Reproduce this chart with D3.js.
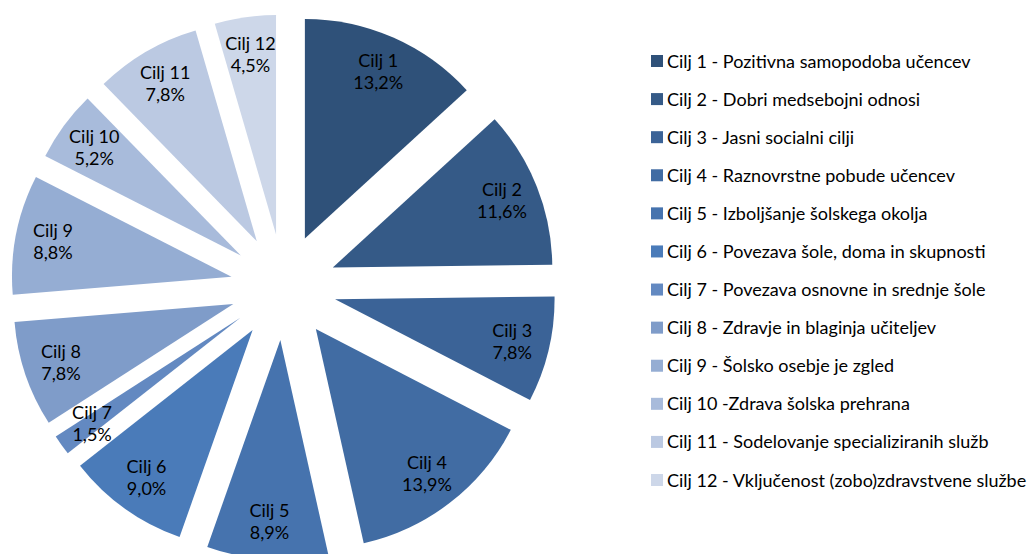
<!DOCTYPE html>
<html>
<head>
<meta charset="utf-8">
<script src="https://cdn.jsdelivr.net/npm/d3@7"></script>
<style>
    body { margin: 0; background: #fff; }
    text { font-family: Lato, "Open Sans", sans-serif; fill: #000; }
</style>
</head>
<body>
<div id="chart"></div>
<script>
// slice names and shares (%)
const goals = ["Cilj 1", "Cilj 2", "Cilj 3", "Cilj 4", "Cilj 5", "Cilj 6",
    "Cilj 7", "Cilj 8", "Cilj 9", "Cilj 10", "Cilj 11", "Cilj 12"]
const shares = [13.2, 11.6, 7.8, 13.9, 8.9, 9.0, 1.5, 7.8, 8.8, 5.2, 7.8, 4.5]
const legendLabels = [
    "Cilj 1 - Pozitivna samopodoba učencev",
    "Cilj 2 - Dobri medsebojni odnosi",
    "Cilj 3 - Jasni socialni cilji",
    "Cilj 4 - Raznovrstne pobude učencev",
    "Cilj 5 - Izboljšanje šolskega okolja",
    "Cilj 6 - Povezava šole, doma in skupnosti",
    "Cilj 7 - Povezava osnovne in srednje šole",
    "Cilj 8 - Zdravje in blaginja učiteljev",
    "Cilj 9 - Šolsko osebje je zgled",
    "Cilj 10 -Zdrava šolska prehrana",
    "Cilj 11 - Sodelovanje specializiranih služb",
    "Cilj 12 - Vključenost (zobo)zdravstvene službe"
]
const colors = ["#2f5179", "#355a87", "#3b6397", "#416ca3", "#4673ae", "#4a7bb9",
    "#6389c1", "#7f9cc9", "#95add3", "#a8bbdb", "#bbc9e2", "#cdd7e9"]

function drawChart() {
    //----------------- dimensions
    const dims = {
        width: 1032,
        height: 554,
        cx: 283.5,
        cy: 287,
        radius: 219.5,
        explode: 53,
        labelR: 182
    }

    const svg = d3.select("#chart")
        .append("svg")
        .attr("width", dims.width)
        .attr("height", dims.height)

    const data = goals.map((g, i) => ({ goal: g, value: shares[i], idx: i }))

    const pie = d3.pie()
        .sort(null)
        .value(d => d.value)

    const arc = d3.arc()
        .innerRadius(0)
        .outerRadius(dims.radius)

    const color = d3.scaleOrdinal().domain(goals).range(colors)

    const fmt = v => d3.format(".1f")(v).replace(".", ",") + "%"

    const pieGroup = svg.append("g")
        .attr("transform", `translate(${dims.cx},${dims.cy})`)

    const slices = pieGroup.selectAll("g.slice")
        .data(pie(data))
        .join("g")
        .attr("class", "slice")
        .attr("transform", d => {
            const mid = (d.startAngle + d.endAngle) / 2
            return `translate(${Math.sin(mid) * dims.explode},${-Math.cos(mid) * dims.explode})`
        })

    slices.append("path")
        .attr("d", arc)
        .attr("fill", d => color(d.data.goal))

    // data labels
    const labels = slices.append("text")
        .attr("text-anchor", "middle")
        .attr("font-size", 18)
        .attr("transform", d => {
            const mid = (d.startAngle + d.endAngle) / 2
            return `translate(${Math.sin(mid) * dims.labelR},${-Math.cos(mid) * dims.labelR})`
        })

    labels.append("tspan")
        .attr("x", 0)
        .attr("y", -4.5)
        .text(d => d.data.goal)

    labels.append("tspan")
        .attr("x", 0)
        .attr("y", 17.5)
        .text(d => fmt(d.data.value))

    //----------------- legend
    const legendY = d3.scalePoint()
        .domain(goals)
        .range([61, 480])

    const legend = svg.append("g")
        .selectAll("g")
        .data(goals)
        .join("g")
        .attr("transform", d => `translate(651,${legendY(d)})`)

    legend.append("rect")
        .attr("x", 0)
        .attr("y", -6)
        .attr("width", 12)
        .attr("height", 12)
        .attr("fill", d => color(d))

    legend.append("text")
        .attr("x", 16)
        .attr("y", 6.5)
        .attr("font-size", 18)
        .text((d, i) => legendLabels[i])
}
drawChart()
</script>
</body>
</html>
